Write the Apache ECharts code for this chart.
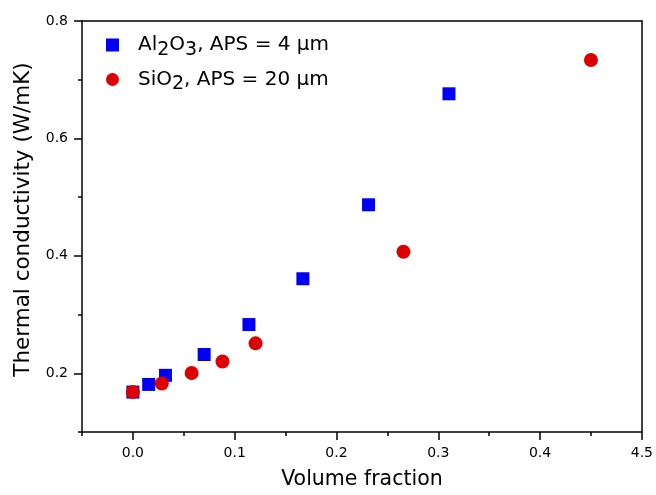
<!DOCTYPE html>
<html><head><meta charset="utf-8">
<script src="https://cdn.jsdelivr.net/npm/echarts@6/dist/echarts.min.js"></script>
<style>html,body{margin:0;padding:0;background:#fff}#c{width:656px;height:495px}</style>
</head><body><div id="c"></div>
<script>
// ---- data ----
const alX = [0.000, 0.0155, 0.032, 0.070, 0.114, 0.167, 0.2315, 0.3105];
const alY = [0.168, 0.181, 0.1965, 0.232, 0.283, 0.361, 0.487, 0.676];
const siX = [0.000, 0.0284, 0.0577, 0.088, 0.1205, 0.2658, 0.450];
const siY = [0.168, 0.1825, 0.2005, 0.220, 0.251, 0.407, 0.7336];
const xMajor = [0, 0.1, 0.2, 0.3, 0.4, 0.5];
const xMajorLabels = ['0.0', '0.1', '0.2', '0.3', '0.4', '4.5'];
const xMinor = [-0.05, 0.05, 0.15, 0.25, 0.35, 0.45];
const yMajor = [0.2, 0.4, 0.6, 0.8];
const yMajorLabels = ['0.2', '0.4', '0.6', '0.8'];
const yMinor = [0.1, 0.3, 0.5, 0.7];
const nameAl = 'Al2O3, APS = 4 \u03bcm';
const nameSi = 'SiO2, APS = 20 \u03bcm';

const FONT = '"DejaVu Sans", "Liberation Sans", Arial, sans-serif';
const lineStyle = {color: '#000', width: 1.5};

function nearestLabel(v, vals, labels) {
  let best = 0;
  for (let i = 1; i < vals.length; i++) if (Math.abs(vals[i] - v) < Math.abs(vals[best] - v)) best = i;
  return labels[best];
}

const chart = echarts.init(document.getElementById('c'), null, {renderer: 'canvas'});
chart.setOption({
  animation: false,
  backgroundColor: '#fff',
  grid: {left: 82, right: 12, top: 21, bottom: 62, containLabel: false},
  legend: {
    orient: 'vertical', left: 101, top: 30, itemGap: 10,
    itemWidth: 13, itemHeight: 13,
    data: [{name: nameAl, icon: 'rect'}, {name: nameSi, icon: 'circle'}],
    formatter: function (n) {
      if (n === nameAl) return '{a|Al}{s|2}{a|O}{s|3}{a|, APS = 4 \u03bcm}';
      return '{a|SiO}{s|2}{a|, APS = 20 \u03bcm}';
    },
    textStyle: {
      color: '#000', fontFamily: FONT, fontSize: 20, padding: [0, 0, 0, 14],
      rich: {
        a: {color: '#000', fontFamily: FONT, fontSize: 20},
        s: {color: '#000', fontFamily: FONT, fontSize: 19, padding: [10, 0, 0, 0]}
      }
    }
  },
  xAxis: [
    {
      type: 'value', min: -0.05, max: 0.5, position: 'bottom',
      name: 'Volume fraction', nameLocation: 'middle', nameGap: 37,
      nameTextStyle: {color: '#000', fontFamily: FONT, fontSize: 20.5},
      axisLine: {show: true, onZero: false, lineStyle: lineStyle},
      axisTick: {show: true, customValues: xMajor, length: 8, lineStyle: lineStyle},
      axisLabel: {show: true, customValues: xMajor, margin: 14, color: '#000', fontFamily: FONT, fontSize: 14,
        formatter: v => nearestLabel(v, xMajor, xMajorLabels)},
      splitLine: {show: false}
    },
    {
      type: 'value', min: -0.05, max: 0.5, position: 'bottom',
      axisLine: {show: false, onZero: false},
      axisTick: {show: true, customValues: xMinor, length: 4, lineStyle: lineStyle},
      axisLabel: {show: false},
      splitLine: {show: false}
    },
    {
      type: 'value', min: -0.05, max: 0.5, position: 'top',
      axisLine: {show: true, onZero: false, lineStyle: lineStyle},
      axisTick: {show: false}, axisLabel: {show: false}, splitLine: {show: false}
    }
  ],
  yAxis: [
    {
      type: 'value', min: 0.1, max: 0.8, position: 'left',
      name: 'Thermal conductivity (W/mK)', nameLocation: 'middle', nameGap: 48,
      nameTextStyle: {color: '#000', fontFamily: FONT, fontSize: 21.5, padding: [0, 0, 0, 14]},
      axisLine: {show: true, onZero: false, lineStyle: lineStyle},
      axisTick: {show: true, customValues: yMajor, length: 8, lineStyle: lineStyle},
      axisLabel: {show: true, customValues: yMajor, margin: 14, color: '#000', fontFamily: FONT, fontSize: 14,
        formatter: v => nearestLabel(v, yMajor, yMajorLabels)},
      splitLine: {show: false}
    },
    {
      type: 'value', min: 0.1, max: 0.8, position: 'left',
      axisLine: {show: false, onZero: false},
      axisTick: {show: true, customValues: yMinor, length: 4, lineStyle: lineStyle},
      axisLabel: {show: false}, splitLine: {show: false}
    },
    {
      type: 'value', min: 0.1, max: 0.8, position: 'right',
      axisLine: {show: true, onZero: false, lineStyle: lineStyle},
      axisTick: {show: false}, axisLabel: {show: false}, splitLine: {show: false}
    }
  ],
  series: [
    {
      name: nameAl, type: 'scatter', xAxisIndex: 0, yAxisIndex: 0,
      symbol: 'rect', symbolSize: 13,
      itemStyle: {color: '#0000f5', opacity: 1},
      data: alX.map((x, i) => [x, alY[i]])
    },
    {
      name: nameSi, type: 'scatter', xAxisIndex: 0, yAxisIndex: 0,
      symbol: 'circle', symbolSize: 14,
      itemStyle: {color: '#dc0000', opacity: 1},
      data: siX.map((x, i) => [x, siY[i]])
    }
  ]
});
</script>
</body></html>
